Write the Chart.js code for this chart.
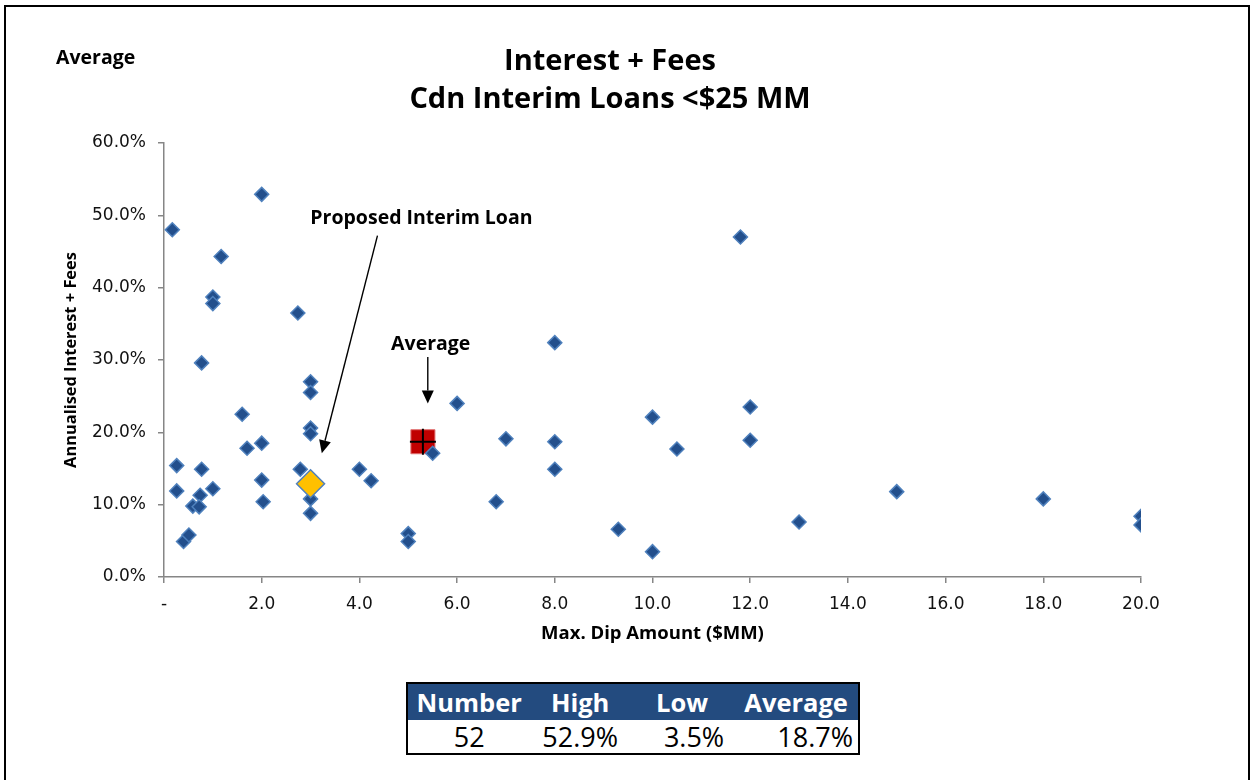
<html>
<head>
	<title>Interest + Fees</title>
	<script src="https://cdn.jsdelivr.net/npm/chart.js"></script>
	<style>
		body { margin: 0; background: #fff; }
		.frame { position: absolute; left: 4px; top: 5px; width: 1242px; height: 800px; border: 2px solid #000; border-bottom: none; }
		#chart { position: absolute; left: 0; top: 0; }
		.legendText { position: absolute; left: 56px; top: 43px; font: bold 19.5px 'Open Sans'; color: #000; }
		table.stats { position: absolute; left: 406px; top: 682px; width: 454px; border-collapse: collapse; border: 2px solid #000; font-family: 'Open Sans'; }
		table.stats th { background: #234b7f; color: #fff; font-size: 25.5px; font-weight: bold; height: 36px; line-height: 36px; padding: 0; text-align: center; }
		table.stats td { font-size: 27px; height: 33px; line-height: 33px; padding: 0; text-align: center; color: #000; }
		table.stats td:nth-child(3) { padding-left: 24px; }
		table.stats td:nth-child(4) { padding-left: 38px; }
	</style>
</head>
<body>
	<div class="frame"></div>
	<canvas id="chart" width="1251" height="657"></canvas>
	<div class="legendText">Average</div>
	<table class="stats">
		<colgroup><col style="width:124px"><col style="width:100px"><col style="width:105px"><col style="width:125px"></colgroup>
		<tr id="statHead"></tr>
		<tr id="statRow"></tr>
	</table>
<script>
	// loans: max. dip amount ($MM) and annualised interest + fees (%)
	const loanAmount = [
		0.17, 2.0, 1.17, 1.0, 1.0, 2.74, 0.77, 3.0, 3.0, 1.6,
		3.0, 3.0, 2.0, 1.7, 0.26, 0.77, 2.79, 4.0, 4.24, 2.0,
		0.26, 1.0, 0.74, 0.59, 0.72, 2.03, 3.0, 3.0, 0.40, 0.51,
		11.8, 8.0, 6.0, 12.0, 10.0, 7.0, 8.0, 12.0, 10.5, 5.5,
		8.0, 6.8, 5.0, 5.0, 9.3, 10.0, 13.0, 15.0, 18.0, 20.0, 20.0
	];
	const loanRate = [
		48.0, 52.9, 44.3, 38.7, 37.8, 36.5, 29.6, 27.0, 25.5, 22.5,
		20.6, 19.8, 18.5, 17.8, 15.4, 14.9, 14.9, 14.9, 13.3, 13.4,
		11.9, 12.2, 11.3, 9.8, 9.7, 10.4, 10.8, 8.8, 4.9, 5.8,
		47.0, 32.4, 24.0, 23.5, 22.1, 19.1, 18.7, 18.9, 17.7, 17.1,
		14.9, 10.4, 6.0, 4.9, 6.6, 3.5, 7.6, 11.8, 10.8, 8.4, 7.2
	];
	const proposedLoan = [3.0, 12.9];
	const averageLoan = [5.3, 18.7];

	const titleLines = ['Interest + Fees', 'Cdn Interim Loans <$25 MM'];
	const statLabels = ['Number', 'High', 'Low', 'Average'];
	const statValues = ['52', '52.9%', '3.5%', '18.7%'];

	document.getElementById('statHead').innerHTML = statLabels.map(s => '<th>' + s + '</th>').join('');
	document.getElementById('statRow').innerHTML = statValues.map(s => '<td>' + s + '</td>').join('');

	const loanPoints = loanAmount.map((x, i) => ({ x: x, y: loanRate[i] }));

	// arrows + labels, placed in data units
	const callouts = [
		{ text: 'Proposed Interim Loan', label: [5.27, 49.6], from: [4.37, 47.2], to: [3.23, 17.1] },
		{ text: 'Average', label: [5.46, 32.2], from: [5.4, 30.4], to: [5.4, 24.0] }
	];

	const calloutPlugin = {
		id: 'callouts',
		afterDatasetsDraw(chart) {
			const ctx = chart.ctx;
			const xs = chart.scales.x, ys = chart.scales.y;
			ctx.save();
			ctx.font = 'bold 19.5px "Open Sans"';
			ctx.fillStyle = '#000';
			ctx.strokeStyle = '#000';
			ctx.textAlign = 'center';
			ctx.textBaseline = 'middle';
			callouts.forEach(c => {
				ctx.fillText(c.text, xs.getPixelForValue(c.label[0]), ys.getPixelForValue(c.label[1]));
				const x1 = xs.getPixelForValue(c.from[0]), y1 = ys.getPixelForValue(c.from[1]);
				const x2 = xs.getPixelForValue(c.to[0]), y2 = ys.getPixelForValue(c.to[1]);
				const a = Math.atan2(y2 - y1, x2 - x1);
				const head = 13, half = 6;
				const bx = x2 - head * Math.cos(a), by = y2 - head * Math.sin(a);
				ctx.lineWidth = 1.4;
				ctx.beginPath();
				ctx.moveTo(x1, y1);
				ctx.lineTo(bx, by);
				ctx.stroke();
				ctx.beginPath();
				ctx.moveTo(x2, y2);
				ctx.lineTo(bx + half * Math.sin(a), by - half * Math.cos(a));
				ctx.lineTo(bx - half * Math.sin(a), by + half * Math.cos(a));
				ctx.closePath();
				ctx.fill();
			});
			// chart title, centred on the page rather than the plot
			ctx.font = 'bold 29px "Open Sans"';
			titleLines.forEach((t, i) => ctx.fillText(t, 610, 62 + i * 38));
			ctx.restore();
		}
	};

	const chart = new Chart(document.getElementById('chart'), {
		type: 'scatter',
		data: {
			datasets: [
				{
					label: 'Proposed Interim Loan',
					data: [{ x: proposedLoan[0], y: proposedLoan[1] }],
					pointStyle: 'rectRot',
					pointRadius: 14,
					backgroundColor: '#ffc000',
					borderColor: '#4f81bd',
					borderWidth: 1.5
				},
				{
					label: 'Loans',
					data: loanPoints,
					pointStyle: 'rectRot',
					pointRadius: 7,
					backgroundColor: '#234f8c',
					borderColor: '#4f81bd',
					borderWidth: 1.5
				},
				{
					label: 'Average cross',
					data: [{ x: averageLoan[0], y: averageLoan[1] }],
					pointStyle: 'cross',
					pointRadius: 13,
					borderColor: '#000',
					borderWidth: 2
				},
				{
					label: 'Average',
					data: [{ x: averageLoan[0], y: averageLoan[1] }],
					pointStyle: 'rect',
					pointRadius: 17,
					backgroundColor: '#c00000',
					borderColor: '#e07070',
					borderWidth: 1
				}
			]
		},
		options: {
			responsive: false,
			animation: false,
			layout: { padding: { left: 0, right: 110, top: 143, bottom: 0 } },
			plugins: {
				legend: { display: false },
				tooltip: { enabled: false },
				title: { display: false }
			},
			scales: {
				x: {
					type: 'linear',
					min: 0,
					max: 20,
					afterFit: (scale) => { scale.height = 80; },
					border: { color: '#868686', width: 1.5 },
					grid: { drawOnChartArea: false, drawTicks: true, tickLength: 6, color: '#868686', lineWidth: 1.5 },
					ticks: {
						stepSize: 2,
						padding: 11,
						color: '#111',
						font: { family: 'DejaVu Sans', size: 17 },
						maxRotation: 0,
						callback: (v) => v === 0 ? '-' : v.toFixed(1)
					},
					title: {
						display: true,
						text: 'Max. Dip Amount ($MM)',
						color: '#000',
						font: { family: 'Open Sans', size: 18.5, weight: 'bold' },
						padding: { top: 0, bottom: 12 }
					}
				},
				y: {
					type: 'linear',
					min: 0,
					max: 60,
					afterFit: (scale) => { scale.width = 164; },
					border: { color: '#868686', width: 1.5 },
					grid: { drawOnChartArea: false, drawTicks: true, tickLength: 6, color: '#868686', lineWidth: 1.5 },
					ticks: {
						stepSize: 10,
						padding: 12,
						color: '#111',
						font: { family: 'DejaVu Sans', size: 17 },
						callback: (v) => v.toFixed(1) + '%'
					},
					title: {
						display: true,
						text: 'Annualised Interest + Fees',
						color: '#000',
						font: { family: 'Open Sans', size: 16.4, weight: 'bold' },
						padding: { top: 61, bottom: 0 }
					}
				}
			}
		},
		plugins: [calloutPlugin]
	});
</script>
</body>
</html>
